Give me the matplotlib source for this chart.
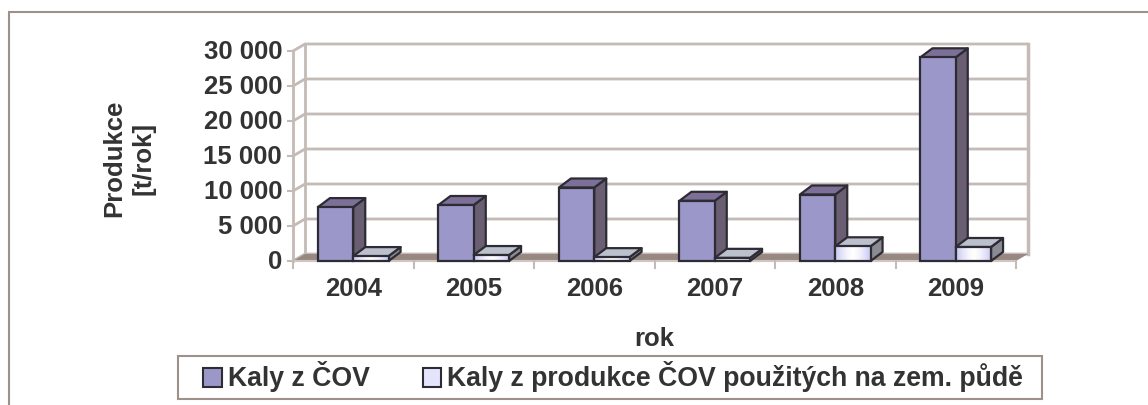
import matplotlib
matplotlib.use("Agg")
import matplotlib.pyplot as plt
from matplotlib.patches import Polygon, Rectangle, Patch
from matplotlib.colors import to_rgb
import numpy as np

years = ["2004", "2005", "2006", "2007", "2008", "2009"]
kaly_cov = [7700, 8000, 10500, 8600, 9500, 29100]
kaly_pouzite = [700, 850, 550, 450, 2100, 2000]
y_ticks = [0, 5000, 10000, 15000, 20000, 25000, 30000]
y_tick_labels = ["0", "5 000", "10 000", "15 000", "20 000", "25 000", "30 000"]
series_names = ["Kaly z ČOV", "Kaly z produkce ČOV použitých na zem. půdě"]

plt.rcParams['font.family'] = ['Liberation Sans', 'DejaVu Sans']
plt.rcParams['font.weight'] = 'bold'

TXT = "#333333"
GRID = "#c4bab6"
FLOOR = "#978882"
BORDER = "#9e918c"
EDGE = "#2d2b33"
FS = 18.5

W, H = 1148, 405
fig = plt.figure(figsize=(W / 100, H / 100), dpi=100)
ax = fig.add_axes([293 / W, 1 - 261 / H, 723 / W, 210 / H])
ax.axis('off')

n = len(years)
ymax = y_ticks[-1]
px_x = 723 / n          # pixels per category
px_y = 210 / ymax       # pixels per unit
DX, DY = 12 / px_x, 7 / px_y      # wall depth
BDX, BDY = 12 / px_x, 9 / px_y    # bar depth

# walls and gridlines
for v in y_ticks:
    ax.plot([0, DX, n + DX], [v, v + DY, v + DY], color=GRID, lw=2, zorder=1,
            clip_on=False, solid_capstyle='butt')
    ax.plot([-5 / px_x, 0], [v, v], color=GRID, lw=1.5, zorder=1, clip_on=False)
ax.plot([DX, DX], [DY, ymax + DY], color=GRID, lw=2, zorder=1, clip_on=False)
ax.plot([n + DX, n + DX], [DY, ymax + DY], color=GRID, lw=2.5, zorder=1, clip_on=False)
ax.plot([0, 0], [0, ymax], color=GRID, lw=2, zorder=1, clip_on=False)

# floor
ax.add_patch(Polygon([(0, 0), (n, 0), (n + DX, DY), (DX, DY)], closed=True,
                     fc=FLOOR, ec='none', zorder=2, clip_on=False))
ax.plot([0, n], [0, 0], color="#cfc6c2", lw=1.5, zorder=2, clip_on=False)
for i in range(n + 1):
    ax.plot([i, i], [0, -7 / px_y], color=GRID, lw=1.5, zorder=2, clip_on=False)

z = [3]


def bar3d(x0, w, v, front, top, side, gradient=None):
    z[0] += 1
    zz = z[0]
    ax.add_patch(Polygon([(x0 + w, 0), (x0 + w + BDX, BDY), (x0 + w + BDX, v + BDY), (x0 + w, v)],
                         closed=True, fc=side, ec=EDGE, lw=1.6, joinstyle='round',
                         zorder=zz, clip_on=False))
    ax.add_patch(Polygon([(x0, v), (x0 + w, v), (x0 + w + BDX, v + BDY), (x0 + BDX, v + BDY)],
                         closed=True, fc=top, ec=EDGE, lw=1.6, joinstyle='round',
                         zorder=zz, clip_on=False))
    if gradient is not None:
        c1, c2 = np.array(to_rgb(gradient[0])), np.array(to_rgb(gradient[1]))
        t = np.abs(np.linspace(-1, 1, 64)) ** 1.5
        img = (c2[None, :] * (1 - t[:, None]) + c1[None, :] * t[:, None])[None, :, :]
        ax.imshow(img, extent=(x0, x0 + w, 0, v), aspect='auto', zorder=zz + 0.1,
                  interpolation='bilinear', clip_on=False)
        ax.add_patch(Rectangle((x0, 0), w, v, fill=False, ec=EDGE, lw=1.6,
                               zorder=zz + 0.2, clip_on=False))
    else:
        ax.add_patch(Rectangle((x0, 0), w, v, fc=front, ec=EDGE, lw=1.6,
                               zorder=zz + 0.2, clip_on=False))


bw = 0.293
for i in range(n):
    bar3d(i + 0.5 - bw, bw, kaly_cov[i], "#9b97c9", "#7d7098", "#6a5e73")
    bar3d(i + 0.5, bw, kaly_pouzite[i], None, "#bcc0cc", "#8b8b94",
          gradient=("#c6c6f2", "#ffffff"))

ax.set_xlim(0, n)
ax.set_ylim(0, ymax)

# tick labels
for v, lab in zip(y_ticks, y_tick_labels):
    ax.text(-11 / px_x, v - 1 / px_y, lab, ha='right', va='center', fontsize=FS,
            color=TXT, clip_on=False)
for i, yr in enumerate(years):
    ax.text(i + 0.5, -28 / px_y, yr, ha='center', va='center', fontsize=FS,
            color=TXT, clip_on=False)

fig.text(654 / W, 1 - 339 / H, "rok", ha='center', va='center', fontsize=FS, color=TXT)
fig.text(129 / W, 1 - 158 / H, "Produkce\n[t/rok]", rotation=90, ha='center',
         va='center', multialignment='center', fontsize=FS, color=TXT, linespacing=1.3)

# legend
handles = [Patch(fc="#9b97c9", ec=EDGE, lw=1.5), Patch(fc="#e4e4fc", ec=EDGE, lw=1.5)]
fig.legend(handles, series_names, ncol=2, loc='center left',
           bbox_to_anchor=(203 / W, 1 - 377 / H), frameon=False, fontsize=19.2,
           handlelength=0.7, handleheight=0.7, handletextpad=0.22,
           columnspacing=2.0, borderpad=0, borderaxespad=0, labelcolor=TXT)
fig.patches.append(Rectangle((178 / W, 1 - 399 / H), (1042 - 178) / W, 43 / H,
                             transform=fig.transFigure, fill=False, ec=BORDER, lw=1.5))
fig.patches.append(Rectangle((9 / W, -0.1), 1.2, 1.1 - 12 / H,
                             transform=fig.transFigure, fill=False, ec=BORDER, lw=1.5))

fig.savefig("out.png", dpi=100)
